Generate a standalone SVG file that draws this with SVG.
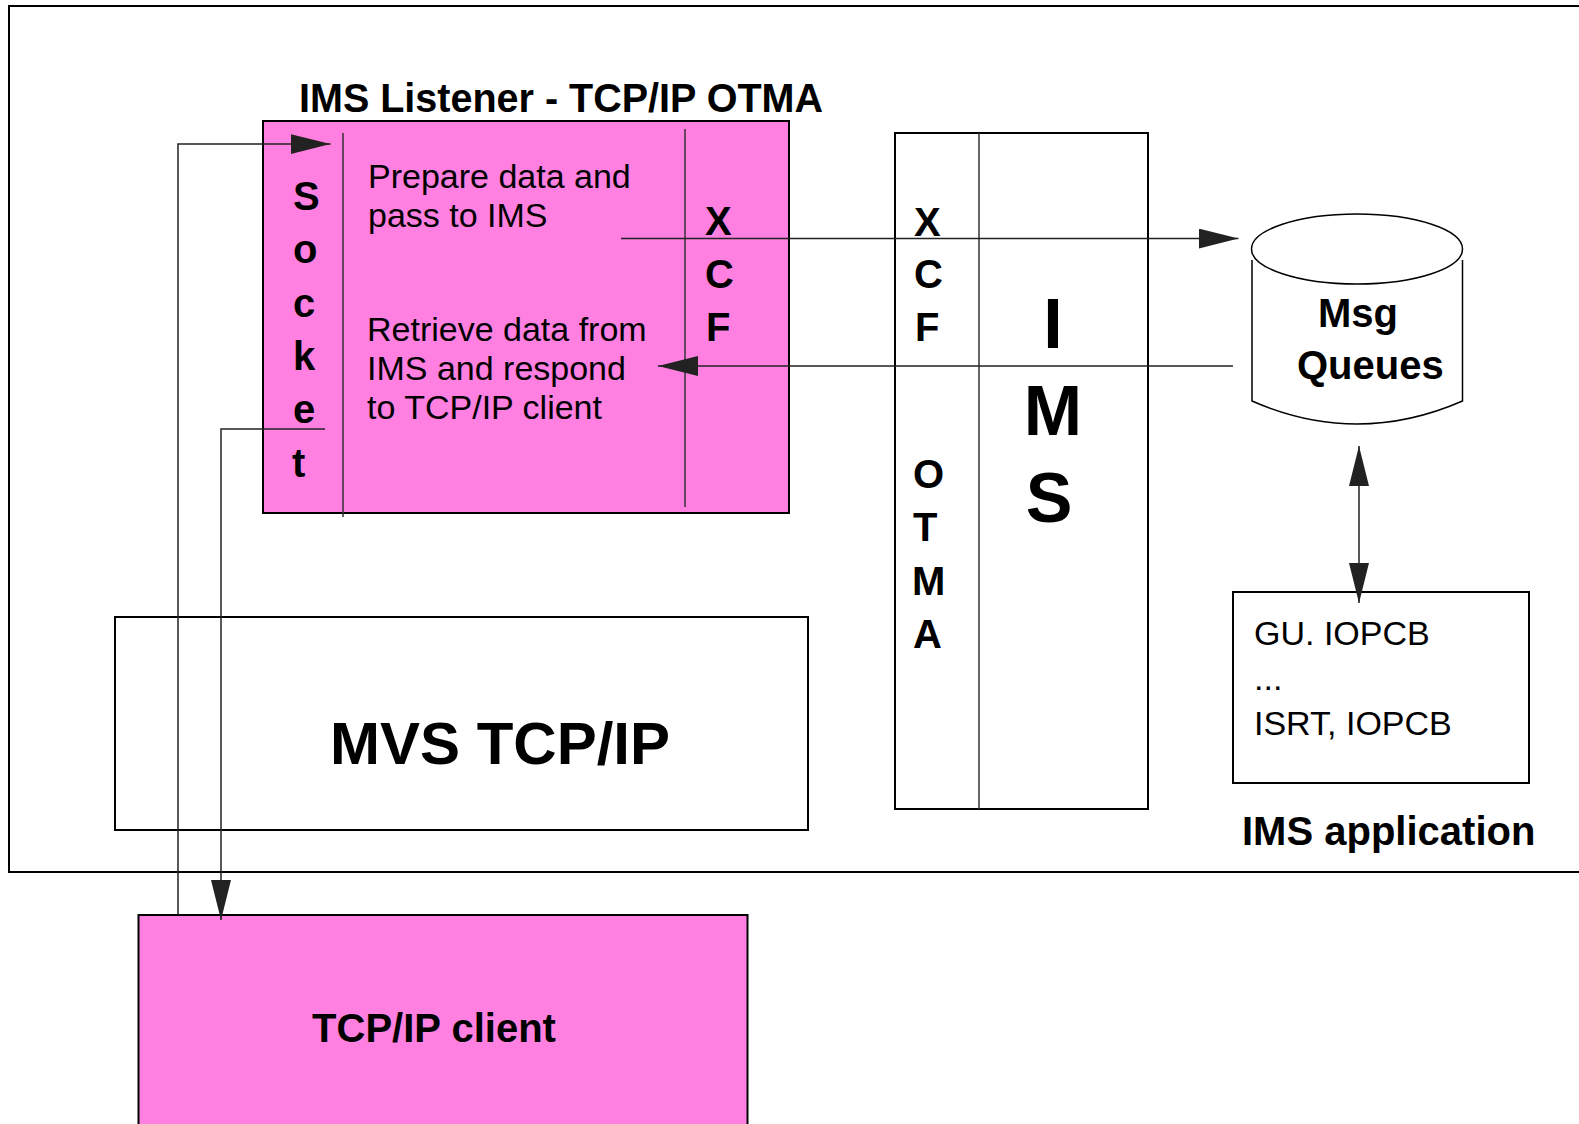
<svg xmlns="http://www.w3.org/2000/svg" width="1579" height="1124" viewBox="0 0 1579 1124">
<defs>
<style>
.box{fill:#fff;stroke:#000;stroke-width:2}
.pink{fill:#FF80E0;stroke:#000;stroke-width:2}
.div{stroke:#333;stroke-width:1.5;fill:none}
.conn{stroke:#222;stroke-width:1.5;fill:none}
.b{font-family:"Liberation Sans",Arial,sans-serif;font-weight:bold;fill:#000}
.r{font-family:"Liberation Sans",Arial,sans-serif;fill:#000}
</style>
<marker id="ah" markerUnits="userSpaceOnUse" markerWidth="40" markerHeight="20" refX="40" refY="10" orient="auto-start-reverse">
<path d="M0,0 L40,10 L0,20 z" fill="#222"/>
</marker>
</defs>
<rect width="1579" height="1124" fill="#fff"/>
<g id="frame">
<rect x="9" y="6" width="1600" height="866" fill="none" stroke="#000" stroke-width="2"/>
</g>
<g id="listener">
<text class="b" x="299" y="112" font-size="40" textLength="524" lengthAdjust="spacingAndGlyphs">IMS Listener - TCP/IP OTMA</text>
<rect class="pink" x="263" y="121" width="526" height="392"/>
<line class="div" x1="343" y1="133" x2="343" y2="517"/>
<line class="div" x1="685" y1="129" x2="685" y2="507"/>
<g class="b" font-size="40">
<text x="293" y="210">S</text>
<text x="293" y="263">o</text>
<text x="293" y="317">c</text>
<text x="293" y="370">k</text>
<text x="293" y="423">e</text>
<text x="292" y="477">t</text>
<text x="705" y="235">X</text>
<text x="705" y="288">C</text>
<text x="706" y="341">F</text>
</g>
<g class="r" font-size="34">
<text x="368" y="188">Prepare data and</text>
<text x="368" y="227">pass to IMS</text>
<text x="367" y="341">Retrieve data from</text>
<text x="367" y="380">IMS and respond</text>
<text x="367" y="419">to TCP/IP client</text>
</g>
</g>
<g id="ims">
<rect class="box" x="895" y="133" width="253" height="676"/>
<line class="div" x1="979" y1="133" x2="979" y2="809"/>
<g class="b" font-size="40">
<text x="914" y="236">X</text>
<text x="914" y="288">C</text>
<text x="915" y="341">F</text>
<text x="913" y="488">O</text>
<text x="913" y="541">T</text>
<text x="912" y="595">M</text>
<text x="913" y="648">A</text>
</g>
<g class="b" font-size="70" text-anchor="middle">
<text x="1053" y="348">I</text>
<text x="1053" y="435">M</text>
<text x="1049" y="522">S</text>
</g>
</g>
<g id="msgqueues">
<path d="M1252,260 L1252,401 Q1357,447 1462.5,401 L1462.5,260" fill="#fff" stroke="#000" stroke-width="1.5"/>
<ellipse cx="1357" cy="249" rx="105.5" ry="35" fill="#fff" stroke="#000" stroke-width="1.5"/>
<text class="b" x="1318" y="327" font-size="40">Msg</text>
<text class="b" x="1297" y="379" font-size="40">Queues</text>
</g>
<g id="imsapp">
<rect class="box" x="1233" y="592" width="296" height="191"/>
<g class="r" font-size="34">
<text x="1254" y="645">GU. IOPCB</text>
<text x="1254" y="690">...</text>
<text x="1254" y="735">ISRT, IOPCB</text>
</g>
<text class="b" x="1242" y="845" font-size="40">IMS application</text>
</g>
<g id="mvs">
<rect class="box" x="115" y="617" width="693" height="213"/>
<text class="b" x="500" y="764" font-size="60" text-anchor="middle">MVS TCP/IP</text>
</g>
<g id="client">
<rect class="pink" x="138.5" y="915" width="609" height="230"/>
<text class="b" x="434" y="1042" font-size="40" text-anchor="middle">TCP/IP client</text>
</g>
<g id="connectors">
<path class="conn" d="M178,915 L178,144 L330.5,144" marker-end="url(#ah)"/>
<path class="conn" d="M325,429 L221,429 L221,920" marker-end="url(#ah)"/>
<path class="conn" d="M621,238.5 L1238.5,238.5" marker-end="url(#ah)"/>
<path class="conn" d="M1233,366 L658,366" marker-end="url(#ah)"/>
<path class="conn" d="M1359,446 L1359,603" marker-start="url(#ah)" marker-end="url(#ah)"/>
</g>
</svg>
